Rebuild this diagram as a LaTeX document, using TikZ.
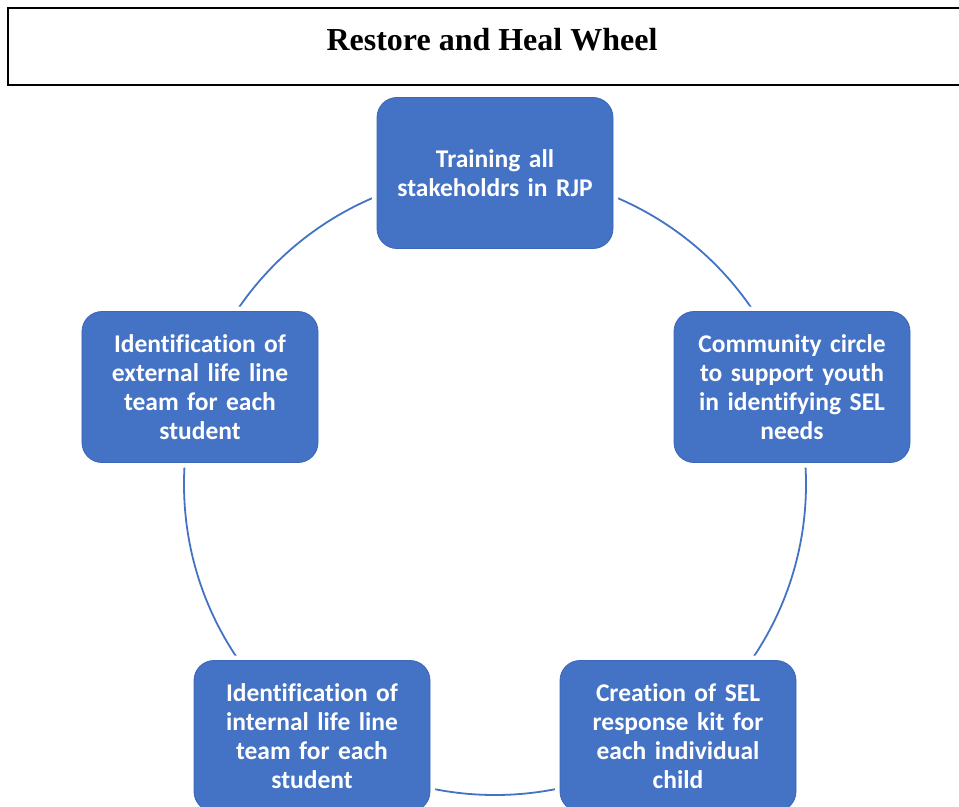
\documentclass[tikz,border=0pt]{standalone}
\usepackage{fontspec}
\newfontfamily\boxfont{Carlito}[Ligatures=NoCommon]
\newfontfamily\titlefont{Liberation Serif}
\definecolor{wheelblue}{HTML}{4472C4}
\definecolor{wheeledge}{HTML}{3A66B5}
\begin{document}
\begin{tikzpicture}[x=1bp,y=-1bp,
  stage/.style={rectangle, rounded corners=20bp, fill=wheelblue, draw=wheeledge, line width=0.8bp,
    preaction={draw=white, line width=10bp},
    minimum width=236bp, minimum height=151bp, inner sep=0pt,
    text width=226bp, align=center, text=white,
    font=\boxfont\bfseries\fontsize{25.5bp}{29bp}\selectfont},
  ring/.style={draw=wheelblue, line width=1.8bp},
  titlebox/.style={draw=black, line width=1.6bp, fill=white}]
\useasboundingbox (0,0) rectangle (959,807);
\fill[white] (0,0) rectangle (959,807);
% title
\draw[titlebox] (8,8) rectangle (965,85);
\node[font=\titlefont\bfseries\fontsize{32bp}{36bp}\selectfont] (title) at (492,40) {Restore and Heal Wheel};
% wheel
\coordinate (c) at (495,484);
\draw[ring] (c) circle[radius=311];
\node[stage] (train) at (495,173) {Training all\\stakeholdrs in RJP};
\node[stage] (comm) at (792,387) {Community circle\\to support youth\\in identifying SEL\\needs};
\node[stage] (kit) at (678,736) {Creation of SEL\\response kit for\\each individual\\child};
\node[stage] (intl) at (312,736) {Identification of\\internal life line\\team for each\\student};
\node[stage] (extl) at (200,387) {Identification of\\external life line\\team for each\\student};
\end{tikzpicture}
\end{document}
